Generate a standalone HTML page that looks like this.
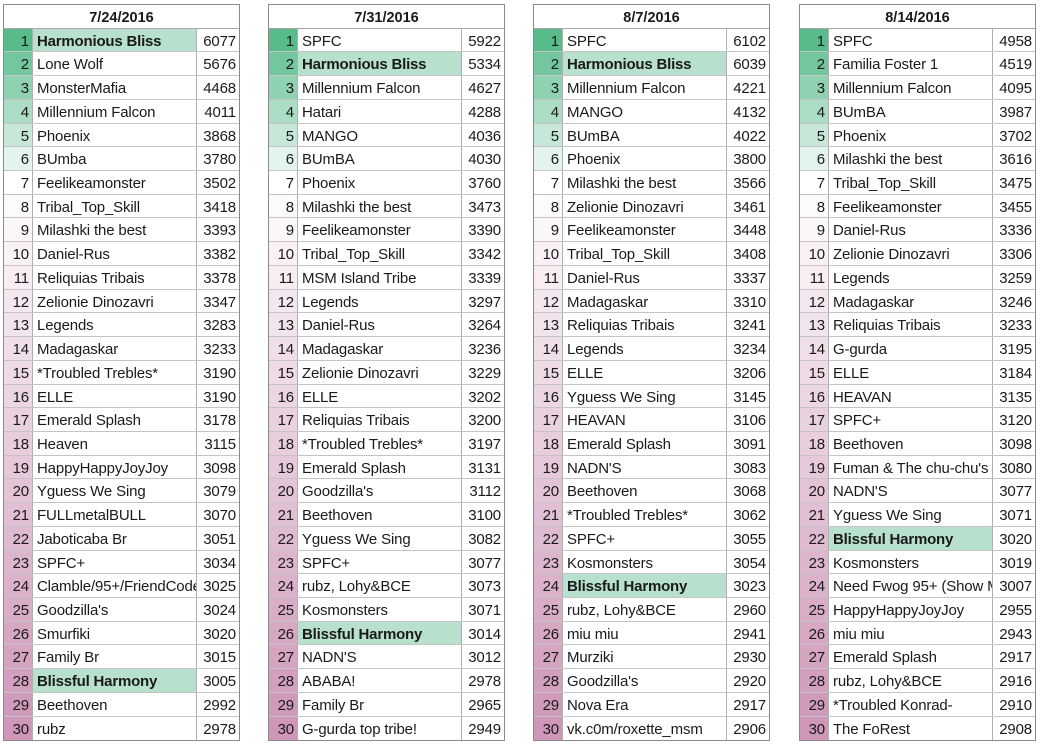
<!DOCTYPE html>
<html><head><meta charset="utf-8">
<style>
html,body{margin:0;padding:0;background:#fff;}
body{width:1040px;height:748px;position:relative;overflow:hidden;font-family:"Liberation Sans",Arial,sans-serif;color:#1a1a1a;}
.t{position:absolute;top:4px;width:237px;border:1px solid #8a8a8a;box-sizing:border-box;background:#fff;}
.h{height:23.72px;box-sizing:border-box;border-bottom:1px solid #a8a8a8;text-align:center;font-weight:bold;font-size:14.5px;line-height:26px;overflow:hidden;}
.r{height:23.72px;box-sizing:border-box;border-bottom:1px solid #c4c4c4;display:flex;font-size:15px;line-height:25.5px;letter-spacing:-0.15px;}
.r:last-child{border-bottom:none;}
.n{width:25px;border-right:1px solid #b0b0b0;text-align:right;padding-right:3px;box-sizing:content-box;flex:none;}
.m{width:159px;padding-left:4px;border-right:1px solid #b0b0b0;white-space:nowrap;overflow:hidden;flex:none;}
.s{flex:1;text-align:right;padding-right:3px;}
.b{font-weight:bold;letter-spacing:-0.2px;}
.g{background:#b7e1cd;}
.c1{background:#57bb8a}.c2{background:#73c69e}.c3{background:#8fd2b1}.c4{background:#abddc5}.c5{background:#c7e8d8}.c6{background:#e3f4ec}.c7{background:#ffffff}
.c8{background:#fdfafc}.c9{background:#fbf6f9}.c10{background:#f9f1f6}.c11{background:#f7edf3}.c12{background:#f4e8f0}.c13{background:#f2e4ed}.c14{background:#f0dfe9}.c15{background:#eedbe6}.c16{background:#ecd6e3}.c17{background:#ead1e0}.c18{background:#e8cddd}.c19{background:#e5c8da}.c20{background:#e3c4d7}.c21{background:#e1bfd4}.c22{background:#dfbbd1}.c23{background:#ddb6ce}.c24{background:#dbb1cb}.c25{background:#d9adc7}.c26{background:#d6a8c4}.c27{background:#d4a4c1}.c28{background:#d29fbe}.c29{background:#d09bbb}.c30{background:#ce96b8}
</style></head><body>

<div class="t" style="left:3px">
<div class="h">7/24/2016</div>
<div class="r"><div class="n c1">1</div><div class="m b g">Harmonious Bliss</div><div class="s">6077</div></div>
<div class="r"><div class="n c2">2</div><div class="m">Lone Wolf</div><div class="s">5676</div></div>
<div class="r"><div class="n c3">3</div><div class="m">MonsterMafia</div><div class="s">4468</div></div>
<div class="r"><div class="n c4">4</div><div class="m">Millennium Falcon</div><div class="s">4011</div></div>
<div class="r"><div class="n c5">5</div><div class="m">Phoenix</div><div class="s">3868</div></div>
<div class="r"><div class="n c6">6</div><div class="m">BUmba</div><div class="s">3780</div></div>
<div class="r"><div class="n c7">7</div><div class="m">Feelikeamonster</div><div class="s">3502</div></div>
<div class="r"><div class="n c8">8</div><div class="m">Tribal_Top_Skill</div><div class="s">3418</div></div>
<div class="r"><div class="n c9">9</div><div class="m">Milashki the best</div><div class="s">3393</div></div>
<div class="r"><div class="n c10">10</div><div class="m">Daniel-Rus</div><div class="s">3382</div></div>
<div class="r"><div class="n c11">11</div><div class="m">Reliquias Tribais</div><div class="s">3378</div></div>
<div class="r"><div class="n c12">12</div><div class="m">Zelionie Dinozavri</div><div class="s">3347</div></div>
<div class="r"><div class="n c13">13</div><div class="m">Legends</div><div class="s">3283</div></div>
<div class="r"><div class="n c14">14</div><div class="m">Madagaskar</div><div class="s">3233</div></div>
<div class="r"><div class="n c15">15</div><div class="m">*Troubled Trebles*</div><div class="s">3190</div></div>
<div class="r"><div class="n c16">16</div><div class="m">ELLE</div><div class="s">3190</div></div>
<div class="r"><div class="n c17">17</div><div class="m">Emerald Splash</div><div class="s">3178</div></div>
<div class="r"><div class="n c18">18</div><div class="m">Heaven</div><div class="s">3115</div></div>
<div class="r"><div class="n c19">19</div><div class="m">HappyHappyJoyJoy</div><div class="s">3098</div></div>
<div class="r"><div class="n c20">20</div><div class="m">Yguess We Sing</div><div class="s">3079</div></div>
<div class="r"><div class="n c21">21</div><div class="m">FULLmetalBULL</div><div class="s">3070</div></div>
<div class="r"><div class="n c22">22</div><div class="m">Jaboticaba Br</div><div class="s">3051</div></div>
<div class="r"><div class="n c23">23</div><div class="m">SPFC+</div><div class="s">3034</div></div>
<div class="r"><div class="n c24">24</div><div class="m">Clamble/95+/FriendCode</div><div class="s">3025</div></div>
<div class="r"><div class="n c25">25</div><div class="m">Goodzilla's</div><div class="s">3024</div></div>
<div class="r"><div class="n c26">26</div><div class="m">Smurfiki</div><div class="s">3020</div></div>
<div class="r"><div class="n c27">27</div><div class="m">Family Br</div><div class="s">3015</div></div>
<div class="r"><div class="n c28">28</div><div class="m b g">Blissful Harmony</div><div class="s">3005</div></div>
<div class="r"><div class="n c29">29</div><div class="m">Beethoven</div><div class="s">2992</div></div>
<div class="r"><div class="n c30">30</div><div class="m">rubz</div><div class="s">2978</div></div>
</div>

<div class="t" style="left:268px">
<div class="h">7/31/2016</div>
<div class="r"><div class="n c1">1</div><div class="m">SPFC</div><div class="s">5922</div></div>
<div class="r"><div class="n c2">2</div><div class="m b g">Harmonious Bliss</div><div class="s">5334</div></div>
<div class="r"><div class="n c3">3</div><div class="m">Millennium Falcon</div><div class="s">4627</div></div>
<div class="r"><div class="n c4">4</div><div class="m">Hatari</div><div class="s">4288</div></div>
<div class="r"><div class="n c5">5</div><div class="m">MANGO</div><div class="s">4036</div></div>
<div class="r"><div class="n c6">6</div><div class="m">BUmBA</div><div class="s">4030</div></div>
<div class="r"><div class="n c7">7</div><div class="m">Phoenix</div><div class="s">3760</div></div>
<div class="r"><div class="n c8">8</div><div class="m">Milashki the best</div><div class="s">3473</div></div>
<div class="r"><div class="n c9">9</div><div class="m">Feelikeamonster</div><div class="s">3390</div></div>
<div class="r"><div class="n c10">10</div><div class="m">Tribal_Top_Skill</div><div class="s">3342</div></div>
<div class="r"><div class="n c11">11</div><div class="m">MSM Island Tribe</div><div class="s">3339</div></div>
<div class="r"><div class="n c12">12</div><div class="m">Legends</div><div class="s">3297</div></div>
<div class="r"><div class="n c13">13</div><div class="m">Daniel-Rus</div><div class="s">3264</div></div>
<div class="r"><div class="n c14">14</div><div class="m">Madagaskar</div><div class="s">3236</div></div>
<div class="r"><div class="n c15">15</div><div class="m">Zelionie Dinozavri</div><div class="s">3229</div></div>
<div class="r"><div class="n c16">16</div><div class="m">ELLE</div><div class="s">3202</div></div>
<div class="r"><div class="n c17">17</div><div class="m">Reliquias Tribais</div><div class="s">3200</div></div>
<div class="r"><div class="n c18">18</div><div class="m">*Troubled Trebles*</div><div class="s">3197</div></div>
<div class="r"><div class="n c19">19</div><div class="m">Emerald Splash</div><div class="s">3131</div></div>
<div class="r"><div class="n c20">20</div><div class="m">Goodzilla's</div><div class="s">3112</div></div>
<div class="r"><div class="n c21">21</div><div class="m">Beethoven</div><div class="s">3100</div></div>
<div class="r"><div class="n c22">22</div><div class="m">Yguess We Sing</div><div class="s">3082</div></div>
<div class="r"><div class="n c23">23</div><div class="m">SPFC+</div><div class="s">3077</div></div>
<div class="r"><div class="n c24">24</div><div class="m">rubz, Lohy&amp;BCE</div><div class="s">3073</div></div>
<div class="r"><div class="n c25">25</div><div class="m">Kosmonsters</div><div class="s">3071</div></div>
<div class="r"><div class="n c26">26</div><div class="m b g">Blissful Harmony</div><div class="s">3014</div></div>
<div class="r"><div class="n c27">27</div><div class="m">NADN'S</div><div class="s">3012</div></div>
<div class="r"><div class="n c28">28</div><div class="m">ABABA!</div><div class="s">2978</div></div>
<div class="r"><div class="n c29">29</div><div class="m">Family Br</div><div class="s">2965</div></div>
<div class="r"><div class="n c30">30</div><div class="m">G-gurda top tribe!</div><div class="s">2949</div></div>
</div>

<div class="t" style="left:533px">
<div class="h">8/7/2016</div>
<div class="r"><div class="n c1">1</div><div class="m">SPFC</div><div class="s">6102</div></div>
<div class="r"><div class="n c2">2</div><div class="m b g">Harmonious Bliss</div><div class="s">6039</div></div>
<div class="r"><div class="n c3">3</div><div class="m">Millennium Falcon</div><div class="s">4221</div></div>
<div class="r"><div class="n c4">4</div><div class="m">MANGO</div><div class="s">4132</div></div>
<div class="r"><div class="n c5">5</div><div class="m">BUmBA</div><div class="s">4022</div></div>
<div class="r"><div class="n c6">6</div><div class="m">Phoenix</div><div class="s">3800</div></div>
<div class="r"><div class="n c7">7</div><div class="m">Milashki the best</div><div class="s">3566</div></div>
<div class="r"><div class="n c8">8</div><div class="m">Zelionie Dinozavri</div><div class="s">3461</div></div>
<div class="r"><div class="n c9">9</div><div class="m">Feelikeamonster</div><div class="s">3448</div></div>
<div class="r"><div class="n c10">10</div><div class="m">Tribal_Top_Skill</div><div class="s">3408</div></div>
<div class="r"><div class="n c11">11</div><div class="m">Daniel-Rus</div><div class="s">3337</div></div>
<div class="r"><div class="n c12">12</div><div class="m">Madagaskar</div><div class="s">3310</div></div>
<div class="r"><div class="n c13">13</div><div class="m">Reliquias Tribais</div><div class="s">3241</div></div>
<div class="r"><div class="n c14">14</div><div class="m">Legends</div><div class="s">3234</div></div>
<div class="r"><div class="n c15">15</div><div class="m">ELLE</div><div class="s">3206</div></div>
<div class="r"><div class="n c16">16</div><div class="m">Yguess We Sing</div><div class="s">3145</div></div>
<div class="r"><div class="n c17">17</div><div class="m">HEAVAN</div><div class="s">3106</div></div>
<div class="r"><div class="n c18">18</div><div class="m">Emerald Splash</div><div class="s">3091</div></div>
<div class="r"><div class="n c19">19</div><div class="m">NADN'S</div><div class="s">3083</div></div>
<div class="r"><div class="n c20">20</div><div class="m">Beethoven</div><div class="s">3068</div></div>
<div class="r"><div class="n c21">21</div><div class="m">*Troubled Trebles*</div><div class="s">3062</div></div>
<div class="r"><div class="n c22">22</div><div class="m">SPFC+</div><div class="s">3055</div></div>
<div class="r"><div class="n c23">23</div><div class="m">Kosmonsters</div><div class="s">3054</div></div>
<div class="r"><div class="n c24">24</div><div class="m b g">Blissful Harmony</div><div class="s">3023</div></div>
<div class="r"><div class="n c25">25</div><div class="m">rubz, Lohy&amp;BCE</div><div class="s">2960</div></div>
<div class="r"><div class="n c26">26</div><div class="m">miu miu</div><div class="s">2941</div></div>
<div class="r"><div class="n c27">27</div><div class="m">Murziki</div><div class="s">2930</div></div>
<div class="r"><div class="n c28">28</div><div class="m">Goodzilla's</div><div class="s">2920</div></div>
<div class="r"><div class="n c29">29</div><div class="m">Nova Era</div><div class="s">2917</div></div>
<div class="r"><div class="n c30">30</div><div class="m">vk.c0m/roxette_msm</div><div class="s">2906</div></div>
</div>

<div class="t" style="left:799px">
<div class="h">8/14/2016</div>
<div class="r"><div class="n c1">1</div><div class="m">SPFC</div><div class="s">4958</div></div>
<div class="r"><div class="n c2">2</div><div class="m">Familia Foster 1</div><div class="s">4519</div></div>
<div class="r"><div class="n c3">3</div><div class="m">Millennium Falcon</div><div class="s">4095</div></div>
<div class="r"><div class="n c4">4</div><div class="m">BUmBA</div><div class="s">3987</div></div>
<div class="r"><div class="n c5">5</div><div class="m">Phoenix</div><div class="s">3702</div></div>
<div class="r"><div class="n c6">6</div><div class="m">Milashki the best</div><div class="s">3616</div></div>
<div class="r"><div class="n c7">7</div><div class="m">Tribal_Top_Skill</div><div class="s">3475</div></div>
<div class="r"><div class="n c8">8</div><div class="m">Feelikeamonster</div><div class="s">3455</div></div>
<div class="r"><div class="n c9">9</div><div class="m">Daniel-Rus</div><div class="s">3336</div></div>
<div class="r"><div class="n c10">10</div><div class="m">Zelionie Dinozavri</div><div class="s">3306</div></div>
<div class="r"><div class="n c11">11</div><div class="m">Legends</div><div class="s">3259</div></div>
<div class="r"><div class="n c12">12</div><div class="m">Madagaskar</div><div class="s">3246</div></div>
<div class="r"><div class="n c13">13</div><div class="m">Reliquias Tribais</div><div class="s">3233</div></div>
<div class="r"><div class="n c14">14</div><div class="m">G-gurda</div><div class="s">3195</div></div>
<div class="r"><div class="n c15">15</div><div class="m">ELLE</div><div class="s">3184</div></div>
<div class="r"><div class="n c16">16</div><div class="m">HEAVAN</div><div class="s">3135</div></div>
<div class="r"><div class="n c17">17</div><div class="m">SPFC+</div><div class="s">3120</div></div>
<div class="r"><div class="n c18">18</div><div class="m">Beethoven</div><div class="s">3098</div></div>
<div class="r"><div class="n c19">19</div><div class="m">Fuman &amp; The chu-chu's</div><div class="s">3080</div></div>
<div class="r"><div class="n c20">20</div><div class="m">NADN'S</div><div class="s">3077</div></div>
<div class="r"><div class="n c21">21</div><div class="m">Yguess We Sing</div><div class="s">3071</div></div>
<div class="r"><div class="n c22">22</div><div class="m b g">Blissful Harmony</div><div class="s">3020</div></div>
<div class="r"><div class="n c23">23</div><div class="m">Kosmonsters</div><div class="s">3019</div></div>
<div class="r"><div class="n c24">24</div><div class="m">Need Fwog 95+ (Show Me</div><div class="s">3007</div></div>
<div class="r"><div class="n c25">25</div><div class="m">HappyHappyJoyJoy</div><div class="s">2955</div></div>
<div class="r"><div class="n c26">26</div><div class="m">miu miu</div><div class="s">2943</div></div>
<div class="r"><div class="n c27">27</div><div class="m">Emerald Splash</div><div class="s">2917</div></div>
<div class="r"><div class="n c28">28</div><div class="m">rubz, Lohy&amp;BCE</div><div class="s">2916</div></div>
<div class="r"><div class="n c29">29</div><div class="m">*Troubled Konrad-</div><div class="s">2910</div></div>
<div class="r"><div class="n c30">30</div><div class="m">The FoRest</div><div class="s">2908</div></div>
</div>

</body></html>
